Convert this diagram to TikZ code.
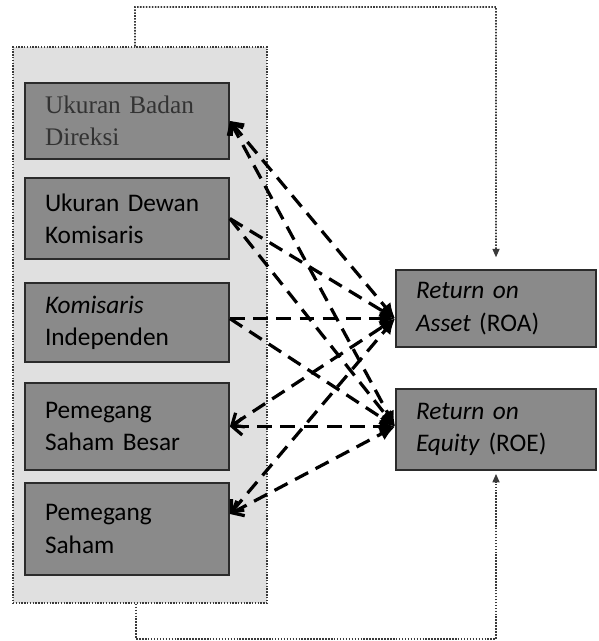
\documentclass[tikz,border=0pt]{standalone}
\usepackage{fontspec}
\setmainfont{Carlito}
\newfontfamily\serifvar{Liberation Serif}
\usetikzlibrary{positioning, arrows.meta}
\definecolor{panelgray}{HTML}{E0E0E0}
\definecolor{boxgray}{HTML}{8A8A8A}
\definecolor{edgegray}{HTML}{2B2B2B}
\definecolor{linkgray}{HTML}{3A3A3A}

\begin{document}
\begin{tikzpicture}[
        varbox/.style={rectangle, draw=edgegray, line width=1.3pt, fill=boxgray, minimum width=5.1cm, text width=4.1cm, inner xsep=0.5cm, inner ysep=0pt, align=left, font=\fontsize{18}{23}\selectfont},
        rel/.style={line width=2.3pt, dash pattern=on 10.5pt off 6pt, -{Latex[length=11pt,width=10pt]}},
        relback/.style={rel, {Straight Barb[length=7pt,width=12pt]}-{Latex[length=11pt,width=10pt]}},
        link/.style={densely dotted, line width=1.1pt, linkgray, -{Triangle[length=6pt,width=5pt]}}]
      \useasboundingbox (0,0) rectangle (14.95,16.025);
      % Panel variabel independen
      \node[rectangle, draw=linkgray, densely dotted, line width=1pt, fill=panelgray, minimum width=6.35cm, minimum height=13.9cm] (grp) at (3.5,7.9) {};
      \node[varbox, minimum height=1.9cm, font=\serifvar\fontsize{18}{23}\selectfont, text=black!80] (b1) at (3.175,13.0) {Ukuran Badan\\Direksi};
      \node[varbox, minimum height=2.02cm] (b2) at (3.175,10.56) {Ukuran Dewan\\Komisaris};
      \node[varbox, minimum height=1.97cm] (b3) at (3.175,7.96) {\textit{Komisaris}\\Independen};
      \node[varbox, minimum height=2.17cm] (b4) at (3.175,5.36) {Pemegang\\Saham Besar};
      \node[varbox, minimum height=2.3cm] (b5) at (3.175,2.8) {Pemegang\\Saham};

      % Variabel dependen
      \node[varbox, minimum width=5.0cm, text width=4.0cm, minimum height=1.92cm] (roa) at (12.4,8.31) {\textit{Return on}\\\textit{Asset} (ROA)};
      \node[varbox, minimum width=5.0cm, text width=4.0cm, minimum height=2.02cm] (roe) at (12.4,5.29) {\textit{Return on}\\\textit{Equity} (ROE)};

      \coordinate (pa) at ([yshift=-0.25cm]roa.west);
      \coordinate (pe) at (b4.east -| roe.west);
      \coordinate (q3) at (b3.east |- pa);
      \coordinate (q5) at ([yshift=0.375cm]b5.east);

      % Hubungan
      \draw[relback] (b1.east) -- (pa);
      \draw[relback] (b1.east) -- (pe);
      \draw[rel] (b2.east) -- (pa);
      \draw[rel] (b2.east) -- (pe);
      \draw[rel] (q3) -- (pa);
      \draw[rel] (q3) -- (pe);
      \draw[relback] (b4.east) -- (pa);
      \draw[relback] (b4.east) -- (pe);
      \draw[relback] (q5) -- (pa);
      \draw[relback] (q5) -- (pe);

      % Garis kontrol atas dan bawah
      \coordinate (topturn) at (3.375,15.85);
      \coordinate (bottomturn) at (3.4,0.05);
      \draw[link, shorten >=0.3cm] ([xshift=-0.125cm]grp.north) -- (topturn) -| (roa.north);
      \draw[link, shorten >=0.08cm] ([xshift=-0.1cm]grp.south) -- (bottomturn) -| (roe.south);
    \end{tikzpicture}
\end{document}
